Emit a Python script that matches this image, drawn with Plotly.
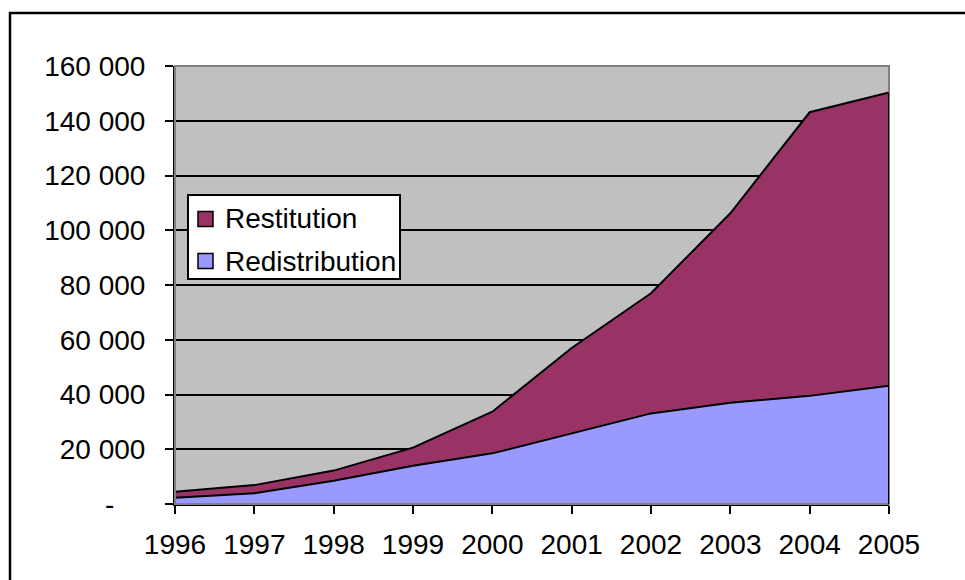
import plotly.graph_objects as go

# Annual amounts by type
years = [1996, 1997, 1998, 1999, 2000, 2001, 2002, 2003, 2004, 2005]
redistribution = [2300, 3900, 8500, 14000, 18500, 25900, 33100, 37000, 39500, 43200]
restitution = [2200, 3000, 3700, 6600, 15200, 31100, 43900, 69200, 103600, 107100]

y_ticks = [0, 20000, 40000, 60000, 80000, 100000, 120000, 140000, 160000]
y_tick_text = ["-" + "\u00a0" * 4, "20 000", "40 000", "60 000", "80 000",
               "100 000", "120 000", "140 000", "160 000"]

legend_names = ["Restitution", "Redistribution"]

COL_REST = "#993366"
COL_REDIS = "#9999FF"
FONT = dict(family="Arial, Liberation Sans, sans-serif", size=28, color="black")

# plot area in pixels
L, R, T, B = 175, 889, 66, 504
W_PX, H_PX = R - L, B - T


def px(x):
    return (x - L) / W_PX


def py(y):
    return (B - y) / H_PX


fig = go.Figure()

# stacked areas, bottom to top
fig.add_trace(go.Scatter(
    x=years, y=redistribution, name="Redistribution", stackgroup="s",
    mode="lines", line=dict(color="black", width=2), fillcolor=COL_REDIS,
    showlegend=False, hoverinfo="skip"))
fig.add_trace(go.Scatter(
    x=years, y=restitution, name="Restitution", stackgroup="s",
    mode="lines", line=dict(color="black", width=2), fillcolor=COL_REST,
    showlegend=False, hoverinfo="skip"))

total_last = redistribution[-1] + restitution[-1]

shapes = [
    # plot area frame
    dict(type="rect", xref="paper", yref="paper", x0=0, x1=1, y0=0, y1=1,
         line=dict(color="#808080", width=2), layer="above"),
    # right-hand edge of the stacked area
    dict(type="line", xref="x", yref="y", x0=years[-1], x1=years[-1],
         y0=0, y1=total_last, line=dict(color="black", width=2), layer="above"),
    # outer chart frame
    dict(type="rect", xref="paper", yref="paper",
         x0=px(10), x1=px(1100), y0=py(700), y1=py(13),
         line=dict(color="black", width=2.5), layer="above"),
    # legend box
    dict(type="rect", xref="paper", yref="paper",
         x0=px(188), x1=px(400), y0=py(279), y1=py(195),
         fillcolor="white", line=dict(color="black", width=2), layer="above"),
]

annotations = []
row_y = [219, 261]
for name, col, yc in zip(legend_names, [COL_REST, COL_REDIS], row_y):
    shapes.append(dict(
        type="rect", xref="paper", yref="paper",
        x0=px(198), x1=px(213), y0=py(yc + 7.5), y1=py(yc - 7.5),
        fillcolor=col, line=dict(color="black", width=1.5), layer="above"))
    annotations.append(dict(
        x=px(223), y=py(yc), xref="paper", yref="paper", text=name,
        showarrow=False, xanchor="left", yanchor="middle", font=FONT))

fig.update_layout(
    width=965, height=580,
    margin=dict(l=L, r=965 - R, t=T, b=580 - B, pad=0),
    paper_bgcolor="white", plot_bgcolor="#C0C0C0",
    font=FONT,
    showlegend=False,
    shapes=shapes,
    annotations=annotations,
    hovermode=False,
)

fig.update_xaxes(
    range=[years[0], years[-1]], tickmode="array", tickvals=years,
    ticktext=[str(y) for y in years],
    showgrid=False, zeroline=False,
    showline=True, linecolor="black", linewidth=2,
    ticks="outside", ticklen=8, tickwidth=2, tickcolor="black",
    ticklabelstandoff=6, tickfont=FONT,
)
fig.update_yaxes(
    range=[0, 160000], tickmode="array", tickvals=y_ticks, ticktext=y_tick_text,
    showgrid=True, gridcolor="black", gridwidth=1.5, zeroline=False,
    showline=True, linecolor="black", linewidth=2,
    ticks="outside", ticklen=8, tickwidth=2, tickcolor="black",
    ticklabelstandoff=14, tickfont=FONT,
)

fig.write_html("out.html")
